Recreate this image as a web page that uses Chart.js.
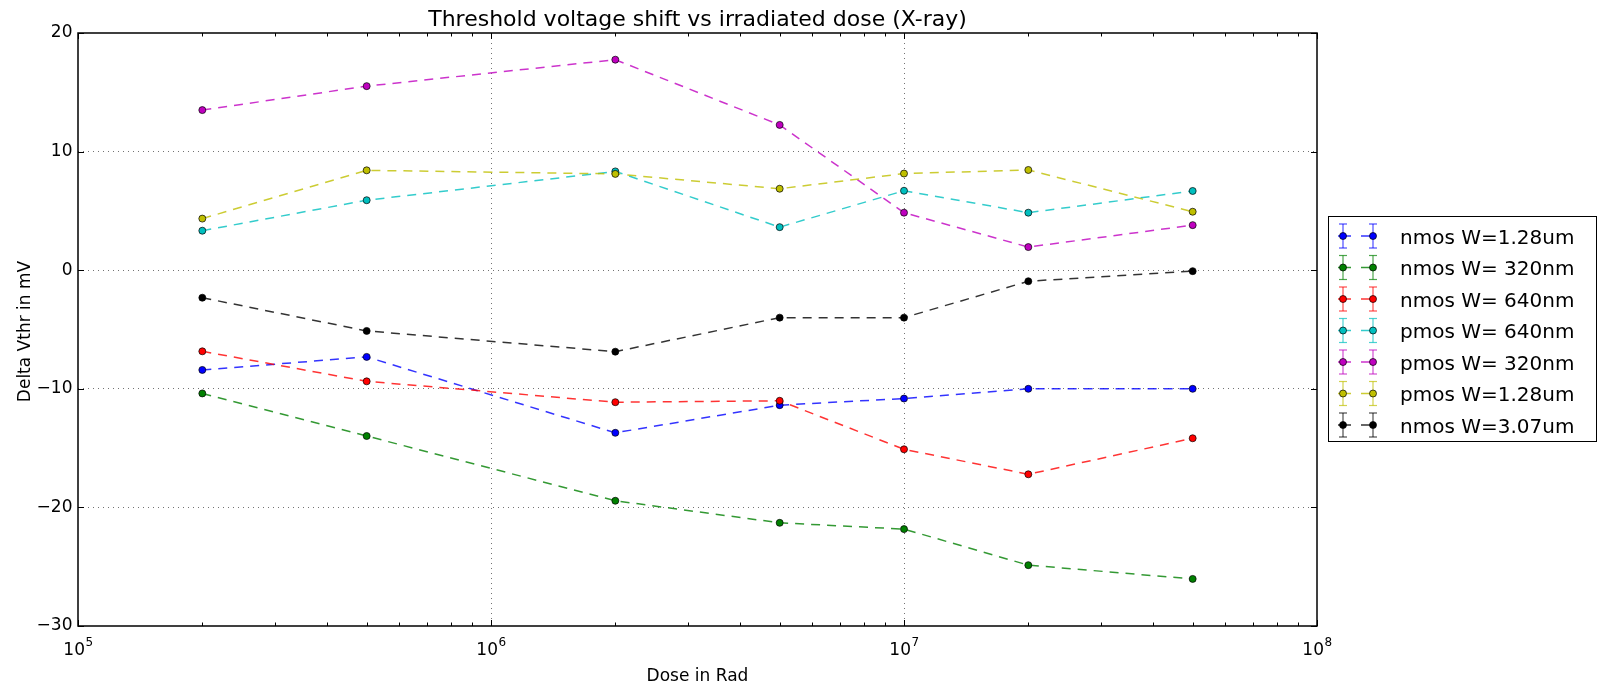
<!DOCTYPE html>
<html>
<head>
<meta charset="utf-8">
<title>Threshold voltage shift vs irradiated dose (X-ray)</title>
<script src="https://cdn.jsdelivr.net/npm/chart.js@4.4.1/dist/chart.umd.min.js"></script>
<style>
  html, body { margin: 0; padding: 0; background: #fff; overflow: hidden; }
  canvas { display: block; }
</style>
</head>
<body>
<canvas id="c" width="1602" height="683"></canvas>
<script>
// Irradiation dose steps (Rad)
const doses = [2e5, 5e5, 2e6, 5e6, 1e7, 2e7, 5e7];

// Threshold voltage shift (mV) per device
const nmos128 = [-8.41, -7.31, -13.71, -11.38, -10.82, -10.0, -10.0];
const nmos320 = [-10.39, -13.98, -19.44, -21.3, -21.83, -24.87, -26.03];
const nmos640 = [-6.84, -9.37, -11.13, -11.01, -15.1, -17.21, -14.17];
const pmos640 = [3.33, 5.9, 8.33, 3.63, 6.7, 4.85, 6.68];
const pmos320 = [13.5, 15.52, 17.75, 12.25, 4.85, 1.95, 3.8];
const pmos128 = [4.35, 8.42, 8.12, 6.87, 8.15, 8.45, 4.93];
const nmos307 = [-2.32, -5.12, -6.87, -4.0, -4.0, -0.93, -0.08];

const seriesLabels = [
  'nmos W=1.28um', 'nmos W= 320nm', 'nmos W= 640nm',
  'pmos W= 640nm', 'pmos W= 320nm', 'pmos W=1.28um', 'nmos W=3.07um'
];
const seriesValues = [nmos128, nmos320, nmos640, pmos640, pmos320, pmos128, nmos307];
const seriesColors = ['#0000ff', '#008000', '#ff0000', '#00bfbf', '#bf00bf', '#bfbf00', '#000000'];

// Axis ticks
const yTicks = [-30, -20, -10, 0, 10, 20];
const xDecades = [1e5, 1e6, 1e7, 1e8];
const xExponents = ['5', '6', '7', '8'];

const FONT = '"DejaVu Sans", "Liberation Sans", Arial, sans-serif';
const GRID = 'rgba(0,0,0,0.55)';
const NONE = 'rgba(0,0,0,0)';
const DASH = [9, 7];

function withAlpha(hex, a) {
  const n = parseInt(hex.slice(1), 16);
  return `rgba(${(n >> 16) & 255},${(n >> 8) & 255},${n & 255},${a})`;
}

const datasets = seriesLabels.map((label, i) => ({
  label,
  data: doses.map((d, k) => ({ x: d, y: seriesValues[i][k] })),
  borderColor: withAlpha(seriesColors[i], 0.8),
  borderWidth: 1.5,
  borderDash: DASH,
  pointStyle: 'circle',
  pointRadius: 3.5,
  pointBackgroundColor: seriesColors[i],
  pointBorderColor: '#000',
  pointBorderWidth: 0.7,
  fill: false,
  tension: 0,
  order: seriesLabels.length - i
}));

function seg(ctx, x1, y1, x2, y2) {
  ctx.beginPath();
  ctx.moveTo(x1, y1);
  ctx.lineTo(x2, y2);
  ctx.stroke();
}

// Frame, inward tick marks, texts and the side legend
const decor = {
  id: 'decor',
  afterDatasetsDraw(chart) {
    const { ctx, chartArea: a, scales: { x, y } } = chart;
    ctx.save();
    ctx.strokeStyle = '#000';
    ctx.lineWidth = 1;
    yTicks.forEach(v => {
      const py = Math.round(y.getPixelForValue(v)) + 0.5;
      seg(ctx, a.left, py, a.left + 6, py);
      seg(ctx, a.right, py, a.right - 6, py);
    });
    for (let d = 0; d < xDecades.length; d++) {
      const base = xDecades[d];
      const px = Math.round(x.getPixelForValue(base)) + 0.5;
      seg(ctx, px, a.bottom, px, a.bottom - 6);
      seg(ctx, px, a.top, px, a.top + 6);
      if (d === xDecades.length - 1) break;
      for (let k = 2; k <= 9; k++) {
        const mx = Math.round(x.getPixelForValue(base * k)) + 0.5;
        seg(ctx, mx, a.bottom, mx, a.bottom - 3.5);
        seg(ctx, mx, a.top, mx, a.top + 3.5);
      }
    }
    ctx.lineWidth = 1.5;
    ctx.strokeRect(a.left, a.top, a.right - a.left, a.bottom - a.top);
    ctx.restore();
  },
  afterDraw(chart) {
    const { ctx, chartArea: a, scales: { x } } = chart;
    const cx = (a.left + a.right) / 2;
    ctx.save();
    ctx.fillStyle = '#000';

    // title
    ctx.font = `22px ${FONT}`;
    ctx.textAlign = 'center';
    ctx.textBaseline = 'alphabetic';
    ctx.fillText('Threshold voltage shift vs irradiated dose (X-ray)', cx, 26);

    // x tick labels: 10 with superscript exponent
    xDecades.forEach((v, i) => {
      const px = x.getPixelForValue(v);
      ctx.font = `17px ${FONT}`;
      const wb = ctx.measureText('10').width;
      ctx.font = `12px ${FONT}`;
      const we = ctx.measureText(xExponents[i]).width;
      const left = px - (wb + we) / 2;
      ctx.textAlign = 'left';
      ctx.font = `17px ${FONT}`;
      ctx.fillText('10', left, 655);
      ctx.font = `12px ${FONT}`;
      ctx.fillText(xExponents[i], left + wb + 0.5, 646);
    });

    // axis titles
    ctx.font = `17px ${FONT}`;
    ctx.textAlign = 'center';
    ctx.fillText('Dose in Rad', cx, 681);
    ctx.save();
    ctx.translate(29.5, (a.top + a.bottom) / 2 + 2);
    ctx.rotate(-Math.PI / 2);
    ctx.fillText('Delta Vthr in mV', 0, 0);
    ctx.restore();

    // legend
    const lx = 1328, ly = 216, lw = 268, lh = 225;
    ctx.fillStyle = '#fff';
    ctx.fillRect(lx, ly, lw, lh);
    ctx.strokeStyle = '#000';
    ctx.lineWidth = 1;
    ctx.strokeRect(lx + 0.5, ly + 0.5, lw, lh);
    chart.data.datasets.forEach((ds, i) => {
      const ry = 236 + i * 31.5;
      const col = seriesColors[i];
      ctx.strokeStyle = ds.borderColor;
      ctx.lineWidth = 1.5;
      ctx.setLineDash([13, 10]);
      seg(ctx, 1338, ry, 1374, ry);
      ctx.setLineDash([]);
      [1343, 1373].forEach(mx => {
        ctx.strokeStyle = withAlpha(col, 0.7);
        ctx.lineWidth = 1.2;
        seg(ctx, mx, ry - 12, mx, ry + 12);
        seg(ctx, mx - 4, ry - 12, mx + 4, ry - 12);
        seg(ctx, mx - 4, ry + 12, mx + 4, ry + 12);
        ctx.beginPath();
        ctx.arc(mx, ry, 3.5, 0, Math.PI * 2);
        ctx.fillStyle = col;
        ctx.fill();
        ctx.strokeStyle = '#000';
        ctx.lineWidth = 0.7;
        ctx.stroke();
      });
      ctx.fillStyle = '#000';
      ctx.font = `20px ${FONT}`;
      ctx.textAlign = 'left';
      ctx.fillText(ds.label, 1400, ry + 7.5);
    });
    ctx.restore();
  }
};

new Chart(document.getElementById('c'), {
  type: 'line',
  data: { datasets },
  plugins: [decor],
  options: {
    responsive: false,
    devicePixelRatio: 1,
    animation: false,
    events: [],
    layout: { padding: { top: 33, right: 285, bottom: 0, left: 0 } },
    plugins: { legend: { display: false }, title: { display: false }, tooltip: { enabled: false } },
    scales: {
      x: {
        type: 'logarithmic',
        min: 1e5,
        max: 1e8,
        afterBuildTicks: s => { s.ticks = xDecades.map(v => ({ value: v, major: true })); },
        afterFit: s => { s.height = 57; },
        ticks: { display: false },
        grid: {
          drawTicks: false,
          lineWidth: 1,
          color: c => (c.tick && (c.tick.value === 1e5 || c.tick.value === 1e8)) ? NONE : GRID
        },
        border: { display: false, dash: [1, 4] }
      },
      y: {
        type: 'linear',
        min: -30,
        max: 20,
        afterBuildTicks: s => { s.ticks = yTicks.map(v => ({ value: v })); },
        afterFit: s => { s.width = 78; },
        ticks: {
          padding: 5.5,
          color: '#000',
          font: { family: FONT, size: 17 },
          callback: v => String(v).replace('-', '\u2212')
        },
        grid: {
          drawTicks: false,
          lineWidth: 1,
          color: c => (c.tick && (c.tick.value === -30 || c.tick.value === 20)) ? NONE : GRID
        },
        border: { display: false, dash: [1, 4] }
      }
    }
  }
});
</script>
</body>
</html>
